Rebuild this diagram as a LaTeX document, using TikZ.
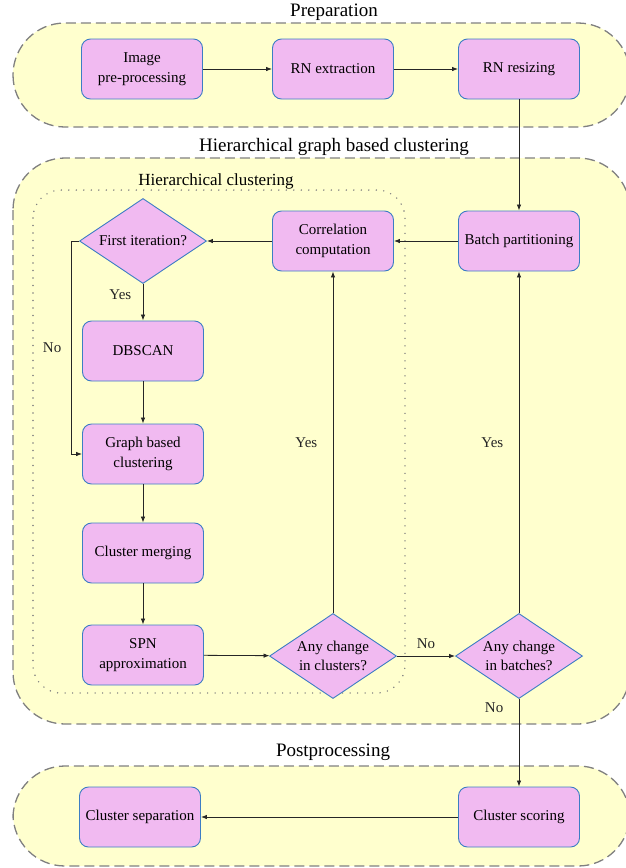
\documentclass[tikz,border=0pt]{standalone}
\usepackage{fontspec}
\setmainfont{Liberation Serif}
\usetikzlibrary{shapes.geometric,arrows.meta}
\definecolor{zonefill}{RGB}{255,255,206}
\definecolor{zoneline}{RGB}{128,128,128}
\definecolor{boxfill}{RGB}{241,186,241}
\definecolor{boxline}{RGB}{60,125,196}
\tikzset{
  zone/.style={draw=zoneline, fill=zonefill, line width=1.3pt, dash pattern=on 10pt off 5pt, rounded corners=52pt},
  subzone/.style={draw=zoneline, line width=1.6pt, line cap=round, dash pattern=on 0pt off 7.5pt, rounded corners=28pt},
  proc/.style={draw=boxline, fill=boxfill, line width=0.9pt, rounded corners=9pt, minimum width=121pt, minimum height=60pt, align=center, font=\fontsize{15}{20}\selectfont},
  cond/.style={diamond, draw=boxline, fill=boxfill, line width=0.9pt, aspect=1.5, inner sep=0pt, minimum width=127pt, minimum height=85pt, align=center, font=\fontsize{15}{19}\selectfont},
  title/.style={font=\fontsize{19}{22}\selectfont},
  subtitle/.style={font=\fontsize{17}{20}\selectfont},
  lbl/.style={font=\fontsize{15}{18}\selectfont}
}
\begin{document}
\begin{tikzpicture}[x=1pt,y=-1pt]
      \useasboundingbox (0,0) rectangle (626,868);
      \draw[zone] (13,23) rectangle (630,127);
      \draw[zone] (13,158) rectangle (630,724);
      \draw[zone] (13,766) rectangle (630,866);
      \draw[subzone] (33,190) rectangle (405,693);
      \draw
        (334,12) node[title] (prep){Preparation}
        (334,147) node[title] (hgbc){Hierarchical graph based clustering}
        (216,181) node[subtitle] (hc){Hierarchical clustering}
        (333,752) node[title] (post){Postprocessing}
        (142,69) node[proc] (img){Image\\pre-processing}
        (333,69) node[proc] (rnext){RN extraction}
        (519,69) node[proc] (rnres){RN resizing}
        (519,241) node[proc] (batch){Batch partitioning}
        (333,241) node[proc] (corr){Correlation\\computation}
        (143,241) node[cond] (first){First iteration?}
        (143,351) node[proc] (dbscan){DBSCAN}
        (143,454) node[proc] (graph){Graph based\\clustering}
        (143,553) node[proc] (merge){Cluster merging}
        (143,655) node[proc] (spn){SPN\\approximation}
        (333,656) node[cond] (chclu){Any change\\in clusters?}
        (519,656) node[cond] (chbat){Any change\\in batches?}
        (519,817) node[proc] (score){Cluster scoring}
        (140,817) node[proc] (sep){Cluster separation};
      \begin{scope}[-{Latex[length=6pt,width=4.5pt]}, line width=0.8pt, black!85]
        \draw (img) to (rnext);
        \draw (rnext) to (rnres);
        \draw (rnres) to (batch);
        \draw (batch) to (corr);
        \draw (corr) to (first);
        \draw (first) to node[lbl, pos=0.3, left=8pt]{Yes} (dbscan);
        \draw (first.west) -- ++(-8,0) |- node[lbl, pos=0.25, left=6pt]{No} (graph.west);
        \draw (dbscan) to (graph);
        \draw (graph) to (merge);
        \draw (merge) to (spn);
        \draw (spn) to (chclu);
        \draw (chclu) to node[lbl, midway, left=12pt]{Yes} (corr);
        \draw (chclu) to node[lbl, midway, above=4pt]{No} (chbat);
        \draw (chbat) to node[lbl, midway, left=12pt]{Yes} (batch);
        \draw (chbat) to node[lbl, pos=0.1, left=12pt]{No} (score);
        \draw (score) to (sep);
      \end{scope}
    \end{tikzpicture}
\end{document}
